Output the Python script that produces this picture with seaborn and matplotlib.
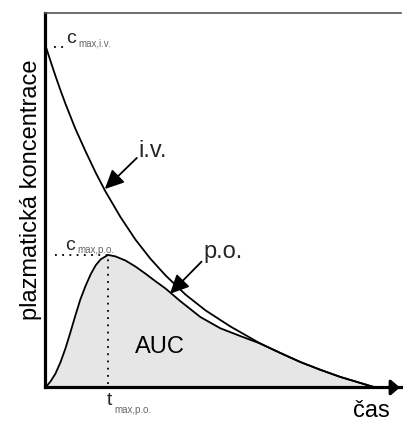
import matplotlib
matplotlib.use("Agg")
import matplotlib.pyplot as plt
import seaborn as sns
import pandas as pd

# i.v. curve (time, concentration)
iv_t = [0.00, 0.14, 0.28, 0.42, 0.56, 0.84, 1.13, 1.41, 1.69, 2.11, 2.53, 2.95,
        3.38, 3.94, 4.50, 5.20, 6.05, 6.61, 7.17, 7.74, 8.30, 8.86, 9.28]
iv_c = [9.13, 8.72, 8.32, 7.94, 7.58, 6.91, 6.30, 5.74, 5.23, 4.55, 3.95, 3.44,
        2.99, 2.48, 2.06, 1.63, 1.17, 0.92, 0.68, 0.47, 0.28, 0.12, 0.00]

# p.o. curve
po_t = [0.00, 0.14, 0.28, 0.42, 0.56, 0.70, 0.84, 0.98, 1.13, 1.27, 1.41, 1.55,
        1.76, 1.97, 2.25, 2.53, 2.81, 3.09, 3.38, 3.80, 4.36, 4.92, 5.49, 6.05,
        6.61, 7.17, 7.74, 8.30, 8.86, 9.28]
po_c = [0.00, 0.16, 0.37, 0.67, 1.04, 1.47, 1.92, 2.35, 2.72, 3.02, 3.26, 3.42,
        3.54, 3.50, 3.39, 3.23, 3.04, 2.84, 2.64, 2.30, 1.88, 1.58, 1.37, 1.17,
        0.92, 0.68, 0.47, 0.28, 0.12, 0.00]

cmax_iv = 9.13
cmax_po = 3.54
tmax_po = 1.76

ylabel = "plazmatická koncentrace"
xlabel = "čas"

sns.set_theme(style="white")
plt.rcParams["font.family"] = ["Liberation Sans", "DejaVu Sans"]

fig = plt.figure(figsize=(4.03, 4.22), dpi=100)
ax = fig.add_axes([0.1129, 0.0818, 0.882, 0.8874])

iv = pd.DataFrame({"t": iv_t, "c": iv_c})
po = pd.DataFrame({"t": po_t, "c": po_c})

ax.fill_between(po["t"], po["c"], 0, color="#e6e6e6", lw=0, zorder=1)
sns.lineplot(data=iv, x="t", y="c", ax=ax, color="black", lw=1.3,
             sort=False, estimator=None, zorder=3)
sns.lineplot(data=po, x="t", y="c", ax=ax, color="black", lw=1.3,
             sort=False, estimator=None, zorder=3)

# dotted guides
dot = dict(color="black", lw=1.3, linestyle=(0, (1, 3)), zorder=2)
ax.plot([0.27, tmax_po], [cmax_po, cmax_po], **dot)
ax.plot([tmax_po, tmax_po], [0.08, cmax_po], **dot)
ax.plot([0.24, 0.55], [cmax_iv - 0.03, cmax_iv - 0.03], **dot)

ax.set_xlim(0, 10)
ax.set_ylim(0, 10)
ax.set_xticks([])
ax.set_yticks([])
ax.set_xlabel("")
ax.set_ylabel("")

for s in ["left", "bottom"]:
    ax.spines[s].set_color("black")
    ax.spines[s].set_linewidth(2.3)
ax.spines["right"].set_visible(False)
ax.spines["top"].set_color("#555555")
ax.spines["top"].set_linewidth(1.2)

# x-axis arrow head
ax.annotate("", xy=(1.005, 0), xycoords="axes fraction", xytext=(0.97, 0),
            arrowprops=dict(arrowstyle="-|>,head_length=0.35,head_width=0.3",
                            mutation_scale=15, color="black", lw=2.3),
            annotation_clip=False)

# labels
big = 17
fig.text(31 / 403, 1 - 190 / 422, ylabel, rotation=90, ha="center",
         va="center", fontsize=big, color="black")
ax.text(8.65, -0.80, xlabel, fontsize=big, ha="left", va="baseline",
        color="black", clip_on=False)
ax.text(2.52, 0.92, "AUC", fontsize=big, ha="left", va="baseline",
        color="black")

ax.text(2.60, 6.15, "i.v.", fontsize=big, ha="left", va="baseline")
ax.text(4.43, 3.46, "p.o.", fontsize=big, ha="left", va="baseline")

arr = dict(arrowstyle="-|>,head_length=0.5,head_width=0.24",
           mutation_scale=23, color="black", lw=1.3, shrinkA=0, shrinkB=0)
ax.annotate("", xy=(1.67, 5.30), xytext=(2.57, 6.13), arrowprops=arr)
ax.annotate("", xy=(3.50, 2.50), xytext=(4.39, 3.36), arrowprops=arr)

sub_col = "#666666"
ax.text(0.58, 9.2, "c", fontsize=14, ha="left", va="baseline")
ax.text(0.92, 9.10, "max,i.v.", fontsize=7, ha="left", va="baseline",
        color=sub_col)
ax.text(0.55, 3.68, "c", fontsize=14, ha="left", va="baseline")
ax.text(0.89, 3.58, "max,p.o.", fontsize=7, ha="left", va="baseline",
        color=sub_col)
ax.text(1.72, -0.47, "t", fontsize=14, ha="left", va="baseline",
        clip_on=False)
ax.text(1.95, -0.68, "max,p.o.", fontsize=7, ha="left", va="baseline",
        color=sub_col, clip_on=False)

fig.savefig("out.png", dpi=100)
